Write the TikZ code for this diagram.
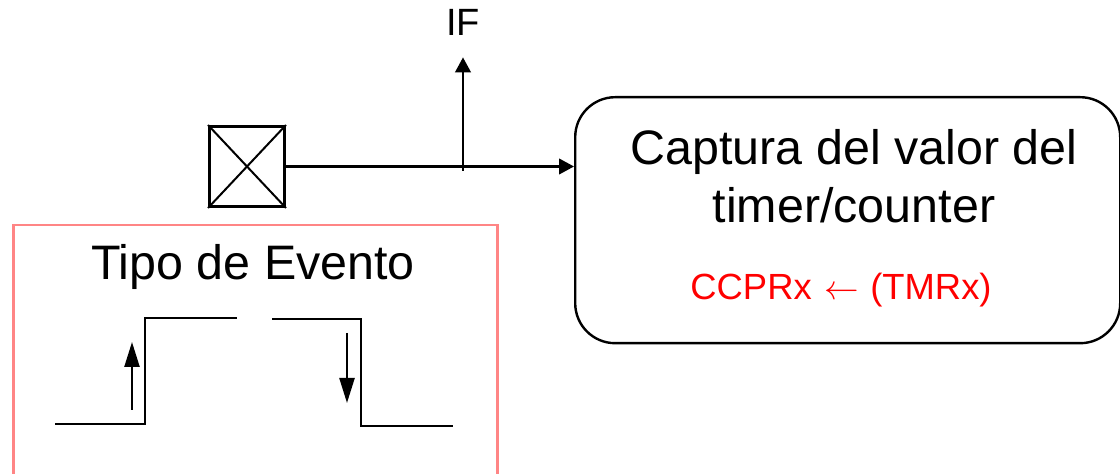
\documentclass[tikz,border=0pt]{standalone}
\usepackage{fontspec}
\setmainfont{Liberation Sans}
\usepackage{tikz}
\usetikzlibrary{arrows.meta,positioning,calc}
\definecolor{eventpink}{HTML}{FF8585}
\tikzset{edge/.style = {
    line width=1.15pt,
    -{Triangle[length=7.5pt, width=7.8pt]},
  }
}

\begin{document}
\begin{tikzpicture}[x=0.5pt, y=-0.5pt]
          \useasboundingbox (0,0) rectangle (1120,474);
          % vertices
          \tikzstyle{bigtext} = [inner sep=0pt, anchor=base, font=\fontsize{24.2}{29}\selectfont]
          \tikzstyle{smalltext} = [inner sep=0pt, anchor=base, font=\fontsize{19}{23}\selectfont]
          \tikzstyle{wave} = [line width=1.25pt]
          \tikzstyle{edgearrow} = [line width=1.15pt, -{Triangle[length=12.5pt, width=7.5pt]}]

          \node[rectangle, draw, line width=1.5pt, minimum width=37.5pt, minimum height=40pt, anchor=north west, inner sep=0pt] (source) at (208,125) {};
          \draw[line width=1pt] (source.north west) -- (source.south east);
          \draw[line width=1pt] (source.south west) -- (source.north east);

          \node[rectangle, draw, line width=1.2pt, rounded corners=20pt, minimum width=272.5pt, minimum height=123pt, anchor=north west] (capture) at (574,96) {};
          \node[bigtext] (capline1) at (854,165) {Captura del valor del};
          \node[bigtext] (capline2) at (854,223) {timer/counter};
          \node[smalltext, text=red, font=\fontsize{18.2}{22}\selectfont] (capreg) at (841,300) {CCPRx\hspace{6.5pt}$\leftarrow$\hspace{5.5pt}(TMRx)};

          \node[smalltext] (flag) at (463,36) {IF};

          \node[rectangle, draw=eventpink, line width=1.25pt, minimum width=242pt, minimum height=140pt, anchor=north west] (event) at (12,224) {};
          \node[bigtext] (eventlabel) at (253,280) {Tipo de Evento};

          % edges
          \coordinate (branch) at (463,171);
          \draw[edge] (source.east) -- (source.east -| capture.west);
          \draw[edge] (branch) -- ($ (flag.south) + (0,21) $);

          % rising and falling edges
          \draw[wave] (55,424) -- (145,424) -- (145,318) -- (237,318);
          \draw[wave] (272,319) -- (361,319) -- (361,426) -- (453,426);
          \draw[edgearrow] (132,410) -- (132,342);
          \draw[edgearrow] (347,333) -- (347,403);
        \end{tikzpicture}
\end{document}
